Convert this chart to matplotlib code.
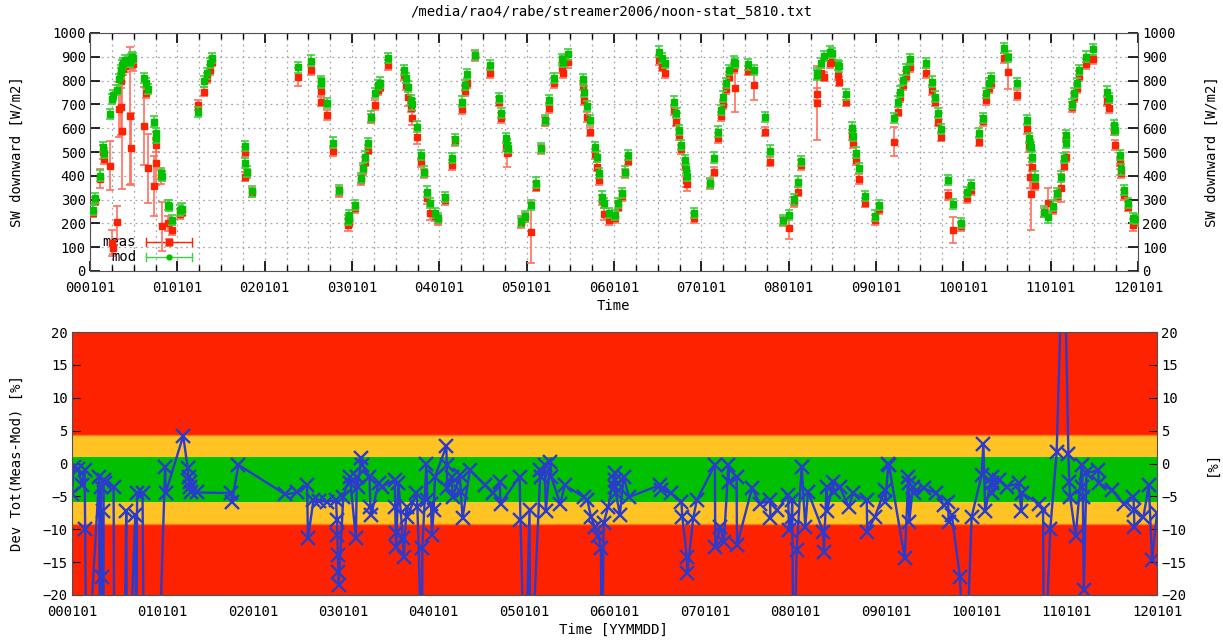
import matplotlib
matplotlib.use('Agg')
import matplotlib.pyplot as plt
from matplotlib.ticker import MultipleLocator, FixedLocator
import numpy as np

plt.rcParams['font.family'] = ['DejaVu Sans Mono']
plt.rcParams['font.size'] = 10

title = "/media/rao4/rabe/streamer2006/noon-stat_5810.txt"
years = list(range(2000, 2013))
year_labels = ["%02d0101" % (y - 2000) for y in years]

# noon values: time (decimal year), measured, measured error, modelled
t_top = [
    2000.03, 2000.06, 2000.12, 2000.15, 2000.16, 2000.23, 2000.25, 2000.26, 2000.31, 2000.33,
    2000.35, 2000.36, 2000.37, 2000.38, 2000.40, 2000.46, 2000.47, 2000.48, 2000.49, 2000.62,
    2000.64, 2000.66, 2000.73, 2000.75, 2000.76, 2000.81, 2000.82, 2000.89, 2000.90, 2000.94,
    2001.03, 2001.05, 2001.24, 2001.31, 2001.34, 2001.37, 2001.40, 2001.77, 2001.78, 2001.80,
    2001.86, 2002.38, 2002.53, 2002.64, 2002.65, 2002.71, 2002.78, 2002.85, 2002.95, 2002.96,
    2002.97, 2003.04, 2003.10, 2003.13, 2003.15, 2003.18, 2003.22, 2003.26, 2003.30, 2003.32,
    2003.41, 2003.60, 2003.62, 2003.64, 2003.68, 2003.69, 2003.74, 2003.79, 2003.82, 2003.86,
    2003.89, 2003.95, 2003.98, 2004.06, 2004.15, 2004.18, 2004.26, 2004.29, 2004.32, 2004.41,
    2004.58, 2004.68, 2004.71, 2004.76, 2004.77, 2004.79, 2004.94, 2004.98, 2005.05, 2005.11,
    2005.16, 2005.21, 2005.25, 2005.31, 2005.40, 2005.42, 2005.47, 2005.64, 2005.66, 2005.69,
    2005.73, 2005.78, 2005.80, 2005.83, 2005.86, 2005.88, 2005.94, 2006.01, 2006.05, 2006.09,
    2006.13, 2006.16, 2006.51, 2006.55, 2006.58, 2006.69, 2006.71, 2006.74, 2006.77, 2006.81,
    2006.83, 2006.84, 2006.92, 2007.10, 2007.15, 2007.19, 2007.23, 2007.25, 2007.28, 2007.32,
    2007.37, 2007.39, 2007.54, 2007.60, 2007.73, 2007.79, 2007.94, 2008.00, 2008.06, 2008.11,
    2008.14, 2008.32, 2008.33, 2008.37, 2008.41, 2008.47, 2008.50, 2008.57, 2008.58, 2008.66,
    2008.73, 2008.74, 2008.77, 2008.80, 2008.87, 2008.99, 2009.03, 2009.21, 2009.25, 2009.28,
    2009.31, 2009.34, 2009.39, 2009.57, 2009.64, 2009.67, 2009.71, 2009.74, 2009.83, 2009.88,
    2009.97, 2010.04, 2010.09, 2010.18, 2010.22, 2010.26, 2010.29, 2010.32, 2010.46, 2010.51,
    2010.62, 2010.73, 2010.75, 2010.76, 2010.77, 2010.79, 2010.82, 2010.92, 2010.97, 2011.03,
    2011.07, 2011.12, 2011.15, 2011.17, 2011.18, 2011.24, 2011.27, 2011.30, 2011.33, 2011.41,
    2011.49, 2011.65, 2011.67, 2011.73, 2011.74, 2011.79, 2011.81, 2011.84, 2011.88, 2011.94,
    2011.98,
]
meas = [
    245, 295, 387, 500, 470, 442, 118, 97, 205, 680,
    690, 800, 590, 850, 860, 650, 515, 880, 870, 610,
    750, 432, 358, 530, 455, 395, 187, 200, 120, 172,
    240, 250, 698, 754, 810, 845, 880, 499, 397, 410,
    330, 814, 845, 757, 712, 656, 504, 331, 194, 205,
    210, 264, 383, 425, 460, 510, 640, 698, 760, 775,
    866, 824, 782, 733, 686, 644, 565, 456, 410, 306,
    245, 229, 215, 299, 446, 545, 679, 757, 790, 903,
    833, 712, 642, 523, 495, 502, 201, 225, 162, 355,
    511, 628, 684, 789, 852, 831, 880, 780, 719, 646,
    586, 492, 439, 383, 299, 240, 215, 222, 271, 315,
    410, 464, 887, 859, 831, 676, 628, 572, 511, 446,
    383, 366, 222, 365, 418, 558, 650, 700, 764, 817,
    852, 768, 842, 782, 586, 460, 208, 180, 290, 334,
    446, 744, 705, 831, 817, 873, 880, 824, 796, 712,
    572, 537, 467, 386, 287, 215, 260, 544, 670, 730,
    780, 820, 856, 833, 761, 712, 628, 565, 320, 173,
    187, 306, 340, 544, 630, 719, 770, 790, 894, 838,
    740, 596, 520, 397, 324, 439, 362, 245, 287, 260,
    315, 348, 443, 480, 560, 688, 730, 770, 820, 870,
    889, 715, 684, 593, 530, 460, 410, 320, 271, 194,
    210,
]
meas_err = [
    18, 18, 40, 30, 20, 103, 55, 25, 70, 115,
    120, 30, 245, 25, 25, 290, 150, 30, 30, 165,
    25, 145, 125, 30, 95, 30, 105, 30, 15, 20,
    20, 20, 20, 20, 20, 20, 20, 20, 20, 20,
    20, 38, 20, 20, 20, 20, 20, 20, 25, 20,
    20, 20, 20, 20, 20, 20, 20, 20, 20, 20,
    20, 20, 20, 40, 20, 30, 30, 20, 20, 25,
    30, 20, 20, 20, 20, 20, 20, 20, 20, 20,
    20, 20, 20, 20, 60, 20, 20, 20, 130, 20,
    20, 20, 20, 20, 20, 20, 25, 20, 20, 20,
    20, 20, 20, 20, 20, 25, 20, 20, 20, 20,
    20, 20, 20, 20, 20, 20, 20, 20, 20, 20,
    30, 30, 20, 20, 20, 20, 20, 20, 20, 20,
    20, 100, 20, 65, 20, 20, 20, 45, 20, 20,
    20, 25, 155, 20, 20, 20, 20, 20, 20, 20,
    20, 20, 20, 20, 20, 20, 20, 60, 20, 20,
    20, 20, 20, 20, 20, 20, 20, 20, 20, 55,
    20, 20, 20, 20, 20, 20, 20, 20, 20, 75,
    20, 20, 20, 50, 150, 20, 20, 20, 60, 20,
    20, 60, 20, 20, 20, 20, 20, 20, 20, 20,
    20, 20, 20, 20, 20, 20, 20, 20, 20, 25,
    20,
]
model = [
    257, 306, 401, 520, 495, 660, 722, 740, 760, 805,
    845, 830, 865, 875, 885, 880, 890, 900, 895, 812,
    790, 765, 628, 580, 560, 410, 400, 278, 275, 215,
    255, 262, 668, 797, 830, 873, 894, 526, 453, 418,
    335, 856, 884, 797, 790, 705, 539, 341, 215, 236,
    222, 278, 390, 432, 481, 537, 649, 747, 782, 792,
    896, 845, 810, 775, 719, 700, 607, 488, 418, 334,
    285, 243, 222, 310, 474, 553, 712, 782, 828, 908,
    866, 726, 663, 558, 530, 516, 208, 229, 278, 371,
    516, 635, 719, 810, 889, 880, 910, 806, 754, 693,
    635, 520, 481, 411, 313, 285, 243, 236, 285, 327,
    418, 488, 922, 894, 873, 712, 663, 593, 530, 467,
    427, 400, 243, 369, 476, 586, 677, 733, 789, 845,
    880, 875, 868, 845, 646, 506, 215, 236, 301, 376,
    462, 824, 830, 873, 903, 922, 915, 866, 860, 742,
    602, 567, 497, 432, 315, 233, 278, 642, 712, 754,
    803, 847, 889, 875, 796, 733, 663, 596, 383, 282,
    201, 331, 362, 579, 642, 747, 789, 810, 936, 901,
    789, 635, 558, 530, 520, 481, 397, 250, 225, 275,
    327, 397, 474, 537, 572, 702, 747, 789, 845, 901,
    931, 754, 726, 614, 593, 488, 427, 341, 285, 222,
    218,
]
model_err = 22

# deviation meas-mod in percent (values beyond +-20 are off the plot)
t_dev = [
    2000.00, 2000.02, 2000.07, 2000.11, 2000.14, 2000.145, 2000.16, 2000.30, 2000.31, 2000.32,
    2000.325, 2000.33, 2000.335, 2000.34, 2000.345, 2000.35, 2000.36, 2000.46, 2000.47, 2000.57,
    2000.60, 2000.61, 2000.70, 2000.71, 2000.72, 2000.78, 2000.80, 2000.94, 2001.03, 2001.035,
    2001.23, 2001.28, 2001.29, 2001.30, 2001.31, 2001.32, 2001.38, 2001.76, 2001.77, 2001.84,
    2002.36, 2002.49, 2002.60, 2002.61, 2002.67, 2002.73, 2002.82, 2002.92, 2002.93, 2002.935,
    2002.94, 2002.945, 2002.95, 2003.00, 2003.07, 2003.08, 2003.14, 2003.15, 2003.16, 2003.20,
    2003.21, 2003.29, 2003.30, 2003.31, 2003.39, 2003.43, 2003.57, 2003.575, 2003.58, 2003.585,
    2003.61, 2003.66, 2003.67, 2003.70, 2003.71, 2003.81, 2003.82, 2003.87, 2003.875, 2003.92,
    2003.93, 2003.97, 2003.98, 2004.00, 2004.015, 2004.14, 2004.145, 2004.15, 2004.20, 2004.21,
    2004.29, 2004.30, 2004.32, 2004.40, 2004.57, 2004.66, 2004.73, 2004.74, 2004.95, 2004.96,
    2005.01, 2005.06, 2005.07, 2005.18, 2005.19, 2005.23, 2005.24, 2005.29, 2005.30, 2005.40,
    2005.45, 2005.66, 2005.70, 2005.74, 2005.78, 2005.82, 2005.85, 2005.86, 2005.88, 2005.93,
    2006.00, 2006.005, 2006.01, 2006.015, 2006.06, 2006.10, 2006.16, 2006.50, 2006.51, 2006.62,
    2006.74, 2006.75, 2006.80, 2006.805, 2006.87, 2006.91, 2007.11, 2007.115, 2007.17, 2007.21,
    2007.26, 2007.265, 2007.35, 2007.355, 2007.52, 2007.61, 2007.72, 2007.725, 2007.80, 2007.92,
    2007.93, 2007.96, 2007.965, 2007.98, 2008.015, 2008.07, 2008.11, 2008.14, 2008.31, 2008.315,
    2008.345, 2008.35, 2008.42, 2008.425, 2008.49, 2008.59, 2008.64, 2008.79, 2008.795, 2008.88,
    2008.99, 2008.995, 2009.03, 2009.035, 2009.21, 2009.25, 2009.255, 2009.26, 2009.30, 2009.31,
    2009.42, 2009.56, 2009.64, 2009.69, 2009.695, 2009.73, 2009.82, 2009.88, 2009.95, 2010.06,
    2010.08, 2010.10, 2010.17, 2010.175, 2010.18, 2010.25, 2010.34, 2010.47, 2010.50, 2010.51,
    2010.69, 2010.74, 2010.75, 2010.82, 2010.89, 2010.95, 2010.98, 2011.02, 2011.03, 2011.04,
    2011.10, 2011.17, 2011.175, 2011.18, 2011.19, 2011.22, 2011.35, 2011.355, 2011.50, 2011.63,
    2011.74, 2011.745, 2011.75, 2011.85, 2011.91, 2011.945, 2012.00,
]
dev = [
    -4.7, -0.5, -0.8, -3.3, -1.0, -10.0, -35, -2.0, -40, -3.5,
    -40, -17.2, -40, -7.3, -40, -2.5, -3.0, -3.5, -40, -40,
    -7.3, -40, -7.8, -40, -4.5, -4.5, -40, -40, -0.5, -4.5,
    4.2, -0.7, -2.0, -2.8, -3.5, -4.3, -4.4, -4.5, -5.8, -0.2,
    -4.7, -4.4, -3.3, -11.4, -5.6, -5.7, -5.8, -5.6, -8.6, -10.9,
    -13.9, -16.5, -18.5, -5.1, -2.0, -3.0, -11.4, -2.0, -3.5, 0.8,
    -0.2, -2.0, -6.6, -7.8, -3.0, -3.5, -2.5, -6.6, -10.6, -12.7,
    -3.0, -11.4, -14.2, -6.6, -8.1, -4.5, -6.6, -30, -12.9, 0.0,
    -5.6, -6.1, -10.9, -7.1, -2.0, 2.6, -0.2, -3.8, -2.0, -5.1,
    -1.8, -4.3, -8.3, -1.0, -3.3, -4.5, -2.8, -6.1, -2.0, -8.6,
    -35, -7.1, -35, -1.0, -2.0, -0.2, -7.3, 0.3, -2.0, -6.1,
    -3.3, -5.1, -5.6, -8.1, -9.6, -11.1, -12.9, -35, -9.0, -6.6,
    -1.5, -2.5, -3.5, -4.5, -7.8, -2.0, -5.1, -3.3, -4.0, -4.5,
    -5.8, -8.1, -14.2, -16.7, -8.3, -5.6, -0.2, -12.7, -9.6, -11.9,
    -0.2, -2.8, -2.0, -12.4, -3.8, -6.1, -5.6, -8.3, -7.1, -4.8,
    -10.1, -8.1, -5.6, -35, -13.2, -0.5, -9.6, -4.3, -10.4, -13.4,
    -3.5, -7.3, -2.8, -4.3, -3.5, -6.6, -4.5, -5.6, -10.4, -8.1,
    -4.0, -5.8, 0.0, -0.2, -14.4, -2.0, -3.0, -8.9, -3.5, -4.5,
    -3.8, -4.5, -6.3, -5.8, -8.9, -7.8, -17.2, -35, -8.1, -1.8,
    3.0, -7.3, -2.0, -3.0, -4.5, -2.5, -3.5, -3.0, -7.3, -4.5,
    -6.1, -7.1, -35, -9.9, 1.7, 30, 30, 1.5, -2.8, -5.1,
    -11.1, -0.2, -3.5, -5.1, -19.2, -1.5, -1.0, -3.0, -4.0, -6.1,
    -5.1, -7.1, -9.6, -8.1, -3.3, -14.7, -7.6,
]

# quality bands of the deviation plot [%]
band_edges = [-9.2, -5.8, 1.0, 4.4]

red = '#ff2200'
red_bar = '#ff7060'
green = '#00c000'
green_bar = '#40d040'
yellow = '#ffc423'
blue = '#2b3bcc'

fig = plt.figure(figsize=(12.23, 6.4), dpi=100)
ax1 = fig.add_axes([90 / 1223, 1 - 271 / 640, 1048 / 1223, 238 / 640])
ax2 = fig.add_axes([72 / 1223, 1 - 595 / 640, 1085 / 1223, 263 / 640])

# --- upper panel
ax1.errorbar(t_top, meas, yerr=meas_err, fmt='s', ms=4.5, color=red,
             ecolor=red_bar, elinewidth=1.2, capsize=3, capthick=1.2, zorder=3)
ax1.errorbar(t_top, model, yerr=model_err, fmt='s', ms=4.5, color=green,
             ecolor=green_bar, elinewidth=1.2, capsize=3, capthick=1.2, zorder=4)
ax1.set_xlim(2000, 2012)
ax1.set_ylim(0, 1000)
ax1.xaxis.set_major_locator(FixedLocator(years))
ax1.xaxis.set_minor_locator(MultipleLocator(0.25))
ax1.set_xticklabels(year_labels)
ax1.yaxis.set_major_locator(MultipleLocator(100))
ax1.grid(True, which='both', color='#a8a8a8', linestyle=(0, (1.5, 3)), linewidth=0.9)
ax1.tick_params(which='both', direction='in', top=True, right=True, labelright=True)
ax1.tick_params(which='major', length=7, width=1.2)
ax1.tick_params(which='minor', length=4, width=1)
ax1.tick_params(axis='x', pad=7)
ax1.tick_params(axis='y', pad=3)
for s in ax1.spines.values():
    s.set_color('#505050')

# hand-made legend in gnuplot style
tr = ax1.transAxes
ax1.text(0.044, 0.122, "meas", transform=tr, ha='right', va='center')
ax1.plot([0.053, 0.097], [0.122, 0.122], color=red, lw=1, transform=tr)
ax1.plot([0.053, 0.053], [0.105, 0.139], color=red, lw=1, transform=tr)
ax1.plot([0.097, 0.097], [0.105, 0.139], color=red, lw=1, transform=tr)
ax1.plot([0.075], [0.122], 's', ms=4.5, color=red, transform=tr)
ax1.text(0.044, 0.059, "mod", transform=tr, ha='right', va='center')
ax1.plot([0.053, 0.097], [0.059, 0.059], color=green_bar, lw=1, transform=tr)
ax1.plot([0.053, 0.053], [0.042, 0.076], color=green_bar, lw=1, transform=tr)
ax1.plot([0.097, 0.097], [0.042, 0.076], color=green_bar, lw=1, transform=tr)
ax1.plot([0.075], [0.059], 'o', ms=3.5, color=green, transform=tr)

# --- lower panel
ax2.axhspan(-20, band_edges[0], color=red, lw=0, zorder=0)
ax2.axhspan(band_edges[0], band_edges[1], color=yellow, lw=0, zorder=0)
ax2.axhspan(band_edges[1], band_edges[2], color=green, lw=0, zorder=0)
ax2.axhspan(band_edges[2], band_edges[3], color=yellow, lw=0, zorder=0)
ax2.axhspan(band_edges[3], 20, color=red, lw=0, zorder=0)
for e in (band_edges[0], band_edges[3]):
    ax2.axhline(e, color='#ff7a10', lw=1, zorder=1)
ax2.plot(t_dev, dev, color=blue, lw=1.7, marker='x', ms=9.5, mew=1.7, zorder=2)
ax2.set_xlim(2000, 2012)
ax2.set_ylim(-20, 20)
ax2.xaxis.set_major_locator(FixedLocator(years))
ax2.set_xticklabels(year_labels)
ax2.yaxis.set_major_locator(MultipleLocator(5))
ax2.tick_params(which='both', direction='in', right=True, labelright=True)
ax2.tick_params(axis='x', length=0, pad=7)
ax2.tick_params(axis='y', length=6, pad=3)
for s in ax2.spines.values():
    s.set_color('#505050')

# texts
fig.text(0.5, 1 - 12 / 640, title, ha='center', va='center')
fig.text(613 / 1223, 1 - 306 / 640, "Time", ha='center', va='center')
fig.text(17 / 1223, 1 - 152 / 640, "SW downward [W/m2]", rotation=90, ha='center', va='center')
fig.text(1212 / 1223, 1 - 152 / 640, "SW downward [W/m2]", rotation=90, ha='center', va='center')
fig.text(613 / 1223, 1 - 630 / 640, "Time [YYMMDD]", ha='center', va='center')
fig.text(17 / 1223, 1 - 463 / 640, "Dev Tot(Meas-Mod) [%]", rotation=90, ha='center', va='center')
fig.text(1212 / 1223, 1 - 463 / 640, "[%]", rotation=90, ha='center', va='center')

fig.savefig('out.png', dpi=100)
